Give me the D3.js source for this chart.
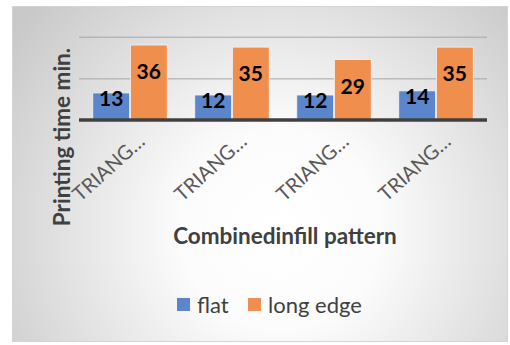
<!DOCTYPE html>
<html>
<head>
<meta charset="utf-8">
<script src="https://cdn.jsdelivr.net/npm/d3@7/dist/d3.min.js"></script>
<style>
  html, body { margin: 0; padding: 0; background: #ffffff; }
  svg { display: block; }
</style>
</head>
<body>
<svg id="chart" width="510" height="345"></svg>
<script>
// Printing time by combined infill pattern and orientation
const categories = ["TRIANGLES", "TRIANGLES", "TRIANGLES", "TRIANGLES"];
const categoryLabels = ["TRIANG…", "TRIANG…", "TRIANG…", "TRIANG…"];
const seriesNames = ["flat", "long edge"];
const flatValues = [13, 12, 12, 14];
const longEdgeValues = [36, 35, 29, 35];
const yTicks = [0, 20, 40];

const colors = { "flat": "#5b86cc", "long edge": "#ef8e4d" };
const fontFamily = "Lato, 'Open Sans', 'DejaVu Sans', sans-serif";

const svg = d3.select("#chart");

// Chart-area background: soft radial gradient from white to gray
const defs = svg.append("defs");
const grad = defs.append("radialGradient")
  .attr("id", "bg").attr("gradientUnits", "userSpaceOnUse")
  .attr("cx", 280).attr("cy", 230).attr("r", 330);
grad.append("stop").attr("offset", "0%").attr("stop-color", "#ffffff");
grad.append("stop").attr("offset", "30%").attr("stop-color", "#fcfcfc");
grad.append("stop").attr("offset", "100%").attr("stop-color", "#c9c9c9");

svg.append("rect")
  .attr("x", 12.5).attr("y", 6.5).attr("width", 495).attr("height", 335)
  .attr("fill", "url(#bg)").attr("stroke", "#d4d4d4").attr("stroke-width", 1);

const plot = { left: 79, right: 487, top: 36.7, bottom: 120 };

const x0 = d3.scaleBand()
  .domain(d3.range(categories.length))
  .range([plot.left, plot.right])
  .paddingInner(0.27).paddingOuter(0.135);

const x1 = d3.scaleBand()
  .domain(seriesNames)
  .range([0, x0.bandwidth()])
  .paddingInner(0.02);

const y = d3.scaleLinear().domain([0, 40]).range([plot.bottom, plot.top]);

// Horizontal gridlines
const yAxis = d3.axisLeft(y).tickValues(yTicks).tickSize(-(plot.right - plot.left)).tickFormat("");
const gy = svg.append("g").attr("transform", `translate(${plot.left},0)`).call(yAxis);
gy.select(".domain").remove();
gy.selectAll(".tick line").attr("stroke", "#a6a6a6").attr("stroke-width", 1)
  .filter(d => d === 0).remove();

// Bars
const rows = categories.map((c, i) => ({ i, values: { "flat": flatValues[i], "long edge": longEdgeValues[i] } }));
const groups = svg.append("g").selectAll("g").data(rows).join("g")
  .attr("transform", d => `translate(${x0(d.i)},0)`);

groups.selectAll("rect").data(d => seriesNames.map(s => ({ s, v: d.values[s] }))).join("rect")
  .attr("x", d => x1(d.s))
  .attr("y", d => y(d.v))
  .attr("width", x1.bandwidth())
  .attr("height", d => y(0) - y(d.v))
  .attr("fill", d => colors[d.s])
  .attr("stroke", "#f4f4f4").attr("stroke-width", 0.8);

// Value labels near the top of each bar
groups.selectAll("text.val").data(d => seriesNames.map(s => ({ s, v: d.values[s] }))).join("text")
  .attr("class", "val")
  .attr("x", d => x1(d.s) + x1.bandwidth() / 2)
  .attr("y", d => y(d.v) + (d.s === "flat" ? 6 : 27))
  .attr("dy", "0.35em")
  .attr("text-anchor", "middle")
  .attr("font-family", fontFamily).attr("font-weight", "bold").attr("font-size", 21)
  .attr("fill", "#000")
  .text(d => d.v);

// Baseline axis
const xAxis = d3.axisBottom(x0).tickSize(0).tickFormat(i => categoryLabels[i]);
const gx = svg.append("g").attr("transform", `translate(0,${plot.bottom})`).call(xAxis);
gx.select(".domain").attr("stroke", "#404040").attr("stroke-width", 3.5)
  .attr("d", `M${plot.left},0H${plot.right}`);
gx.selectAll(".tick text")
  .attr("font-family", fontFamily).attr("font-size", 20).attr("fill", "#595959")
  .attr("text-anchor", "end")
  .attr("transform", "translate(6,12) rotate(-42)")
  .attr("x", 0).attr("y", 0).attr("dy", "0.75em");

// Axis titles
svg.append("text")
  .attr("transform", "translate(62,137) rotate(-90)")
  .attr("text-anchor", "middle").attr("dy", "0.35em")
  .attr("font-family", fontFamily).attr("font-weight", "bold").attr("font-size", 22.5)
  .attr("fill", "#404040")
  .text("Printing time min.");

svg.append("text")
  .attr("x", 285).attr("y", 236).attr("dy", "0.35em")
  .attr("text-anchor", "middle")
  .attr("font-family", fontFamily).attr("font-weight", "bold").attr("font-size", 22.5)
  .attr("fill", "#404040")
  .text("Combinedinfill pattern");

// Legend
const legendX = [177, 248];
const legend = svg.append("g").selectAll("g").data(seriesNames).join("g")
  .attr("transform", (d, i) => `translate(${legendX[i]},298)`);
legend.append("rect").attr("width", 13).attr("height", 13).attr("fill", d => colors[d]);
legend.append("text")
  .attr("x", 20).attr("y", 7).attr("dy", "0.35em")
  .attr("font-family", fontFamily).attr("font-size", 22).attr("fill", "#404040")
  .text(d => d);
</script>
</body>
</html>
